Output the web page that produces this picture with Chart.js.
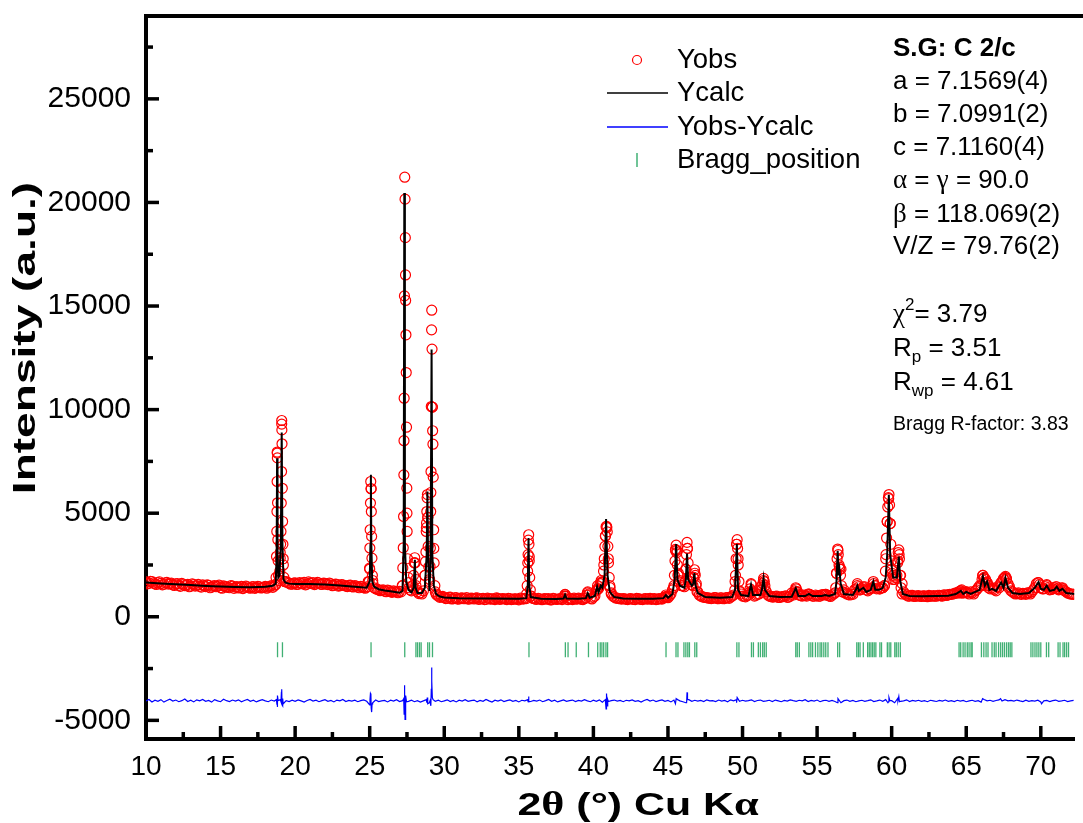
<!DOCTYPE html>
<html>
<head>
<meta charset="utf-8">
<script src="https://cdn.jsdelivr.net/npm/chart.js@4.4.1/dist/chart.umd.min.js"></script>
<style>
html,body{margin:0;padding:0;background:#fff;}
canvas{display:block;}
</style>
</head>
<body>
<canvas id="c" width="1083" height="823" style="width:1083px;height:823px;"></canvas>
<script>
// ---------------- DATA ----------------
const xTickLabels = [10, 15, 20, 25, 30, 35, 40, 45, 50, 55, 60, 65, 70];
const yTickLabels = [-5000, 0, 5000, 10000, 15000, 20000, 25000];
const xTitle = '2θ (°) Cu Kα';
const yTitle = 'Intensity (a.u.)';

// observed profile, 2θ step 0.2 starting at 10.0
const obsStartA = 10.0, obsStep = 0.2;
const obsBaseA = [
 1680,1620,1700,1590,1650,1610,1570,1660,1600,1540,
 1590,1520,1610,1500,1560,1480,1550,1510,1470,1540,
 1460,1520,1430,1500,1470,1410,1490,1440,1400,1480,
 1430,1390,1470,1420,1450,1380,1460,1410,1440,1400,
 1470,1430,1500,1480,7900,3100,2800,1700,1620,1580,
 1640,1570,1610,1660,1580,1620,1650,1590,1630,1560,
 1610,1550,1590,1530,1570,1500,1540,1480,1520,1460,
 1500,1430,1470,1410,1440,2300,1750,1350,1300,1280,
 1240,1290,1210,1250,1190,1230,1500,16500,1650,1250,
 2600,1200,1150,1250,4300,1700,10120,1200,1000,960,
 930,890,950,870,920,860,910,880,850,900,
 860,910,850,890,840,880,860,830,890,850,
 870,830,880,840,860,820,870,890,2600,1000,
 880,840,870,830,860,880,820,870,840,880,
 900,850,880,830,860,900,840,880,1150,900,
 950,1250,1450,1650,3900,2800,1150,950,900,870,
 880,840,870,850,830,880,840,870,850,890,
 860,830,880,850,950,920,1100,1500,3200,1750,
 1500,2300,1900,1550,2100,1200,1000,950,920,900,
 890,920,870,910,880,930,950,1050,3500,1250,
 1000,960,1050,1550,1000,1080,1300,1750,1200,1000,
 950,980,930,960,990,940,1000,1050,1350,1050,
 1000,1030,1100,1040,990,1020,1000,1070,1080,1010,
 1050,1150,3200,2300,1300,1100,1050,1080,1350,1450,
 1350,1450,1250,1350,1600,1350,1350,1400,2800,5700,
 2300,1900,2700,2000,1200,1050,1000,1030,990,1020,
 980,1010,970,1000,1020,990,1030,1000,1050,1070,
 1080,1120,1150,1250,1150,1200,1100,1150,1250,1400,
 1500,1900,1650,1350,1350,1250,1400,1700,1900,1600,
 1250,1150,1120,1100,1130,1080,1150,1200,1400,1650,
 1400,1350,1500,1300,1350,1450,1300,1380,1250,1150,
 1100,1080
];
// observed profile, 2θ step 0.2 starting at 10.1 (interleaved points)
const obsStartB = 10.1;
const obsBaseB = [
 1590,1710,1630,1560,1690,1540,1640,1580,1620,1510,
 1600,1470,1570,1530,1450,1590,1480,1560,1430,1500,
 1540,1400,1480,1450,1530,1380,1460,1420,1500,1370,
 1460,1410,1360,1480,1400,1440,1370,1470,1390,1420,
 1380,1460,1420,1550,2000,9300,1700,1650,1570,1620,
 1560,1650,1590,1540,1680,1600,1550,1660,1580,1620,
 1570,1620,1500,1580,1480,1550,1510,1460,1530,1440,
 1480,1400,1450,1380,1700,6180,1400,1330,1260,1300,
 1210,1260,1180,1220,1160,1200,8500,5000,1300,1500,
 1500,1120,1100,2000,4800,6000,3300,1050,940,980,
 880,940,860,910,850,900,870,930,860,890,
 900,840,880,830,900,850,870,910,840,880,
 850,890,830,870,840,900,850,880,2900,900,
 850,890,830,880,850,820,890,840,870,830,
 1070,830,870,900,850,880,830,910,1100,860,
 1000,1350,1650,2500,4300,1500,1000,900,880,850,
 870,830,880,840,890,850,830,880,860,840,
 880,840,870,900,980,1000,1300,3250,2100,1500,
 1450,3300,1700,1900,1600,1050,960,930,900,880,
 930,880,910,870,920,890,1000,1700,2800,1100,
 990,1030,1350,1200,1040,1100,1500,1500,1050,980,
 960,1000,940,970,1010,950,1150,1250,1200,1020,
 1050,1000,1080,1000,1050,990,1060,1050,1040,980,
 1100,2100,2400,1200,1150,1070,1100,1300,1600,1300,
 1450,1300,1350,1400,1500,1400,1400,1500,4600,4500,
 2000,1900,3000,1600,1100,1000,1040,980,1010,990,
 1010,980,1030,990,1000,1040,1010,1060,1030,1080,
 1100,1150,1200,1300,1180,1150,1200,1100,1300,1500,
 2000,1800,1500,1400,1300,1450,1600,1850,1850,1450,
 1200,1100,1150,1080,1120,1150,1100,1300,1600,1550,
 1350,1450,1400,1320,1400,1350,1320,1300,1200,1120,
 1090
];

// observed points on the Bragg peaks [2θ, counts]
const obsPeaks = [
 [18.68,1550],[18.72,1900],[18.75,2910],[18.77,4120],[18.78,5080],[18.79,6530],[18.80,7950],[18.81,7670],[18.82,5500],[18.84,3720],[18.86,2700],[18.89,2000],[18.93,1750],
 [18.97,2200],[19.00,2830],[19.03,3500],[19.05,4120],[19.07,5490],[19.09,7010],[19.10,9475],[19.11,9020],[19.12,8350],[19.14,6200],[19.16,4600],[19.18,3500],[19.21,2500],[19.25,1900],[19.30,1700],
 [24.96,1700],[24.99,2350],[25.01,3320],[25.03,4200],[25.05,5490],[25.07,6530],[25.09,6180],[25.11,5080],[25.13,3880],[25.15,2830],[25.18,2000],[25.22,1600],
 [27.18,1500],[27.22,2360],[27.25,3330],[27.27,4840],[27.29,6850],[27.31,10550],[27.33,15490],[27.35,21220],[27.37,20160],[27.39,18300],[27.41,15270],[27.43,13610],[27.45,11790],[27.47,9150],[27.49,6210],[27.51,4120],[27.54,2800],[27.58,1900],[27.64,1400],
 [27.88,1500],[27.94,2000],[27.99,2600],[28.02,2850],[28.05,2600],[28.09,1800],[28.15,1300],
 [28.70,2000],[28.74,2660],[28.77,3130],[28.79,4120],[28.81,4530],[28.83,5080],[28.85,5740],[28.87,5900],[28.89,4800],[28.92,3400],[28.96,2400],
 [29.02,1800],[29.05,2430],[29.07,3320],[29.09,5080],[29.11,7010],[29.13,10150],[29.15,13850],[29.16,14800],[29.18,12920],[29.20,10120],[29.22,8980],[29.24,8330],[29.26,6740],[29.29,4200],[29.32,2600],[29.37,1500],[29.45,1100],
 [35.52,1100],[35.56,1500],[35.59,2200],[35.62,3000],[35.64,3700],[35.66,3960],[35.68,3500],[35.70,2700],[35.73,1900],[35.77,1300],[35.82,1000],
 [38.05,1000],[38.10,1080],[38.15,1000],[39.55,1050],[39.62,1200],[39.68,1050],
 [40.22,1300],[40.28,1500],[40.34,1350],[40.45,1600],[40.52,1750],
 [40.62,1700],[40.68,2200],[40.73,2800],[40.77,3400],[40.81,3900],[40.85,4350],[40.89,4360],[40.93,4100],[40.97,3400],[41.01,2600],[41.06,1900],[41.12,1400],[41.20,1100],
 [44.80,950],[44.86,1050],[44.92,950],
 [45.38,1400],[45.43,2000],[45.47,2700],[45.51,3200],[45.55,3460],[45.59,3100],[45.63,2500],[45.67,2000],[45.72,1700],
 [46.16,1700],[46.20,2300],[46.24,3000],[46.28,3590],[46.31,3300],[46.35,2600],[46.40,1900],
 [46.68,1500],[46.73,1900],[46.78,2270],[46.83,2000],[46.88,1500],[46.95,1200],
 [49.48,1300],[49.53,2000],[49.57,2800],[49.61,3500],[49.64,3720],[49.67,3300],[49.71,2500],[49.76,1700],[49.82,1200],
 [50.50,1200],[50.57,1600],[50.64,1250],
 [51.30,1300],[51.36,1600],[51.41,1850],[51.46,1700],[51.53,1300],
 [53.48,1150],[53.57,1400],[53.65,1200],[54.45,1100],[55.55,1080],
 [56.25,1400],[56.30,2100],[56.34,2800],[56.38,3270],[56.42,3000],[56.47,2500],[56.52,2300],[56.57,2000],[56.63,1500],[56.70,1200],
 [57.70,1500],[57.85,1300],[58.10,1400],[58.50,1350],[58.77,1700],[58.90,1500],[59.20,1350],[59.40,1400],
 [59.52,1500],[59.58,2200],[59.62,3000],[59.66,3800],[59.70,4600],[59.74,5300],[59.78,5750],[59.82,5900],[59.86,5400],[59.90,4500],[59.94,3500],[59.98,2700],[60.03,2100],[60.08,1800],[60.20,1800],
 [60.35,2000],[60.40,2600],[60.44,3100],[60.48,3230],[60.52,2800],[60.57,2000],[60.63,1400],[60.70,1100],
 [64.55,1150],[64.64,1250],[64.72,1150],[65.00,1200],
 [66.00,1500],[66.06,1800],[66.12,2000],[66.18,1850],[66.25,1650],[66.40,1650],[66.50,1400],
 [67.34,1650],[67.50,1800],[67.63,1950],[67.70,1800],[67.85,1400],
 [69.85,1650],[70.40,1550],[70.90,1400],[71.07,1450],[71.45,1400]
];

// calculated profile [2θ, counts]
const calcPts = [
 [10,1650],[11,1610],[12,1570],[13,1530],[14,1490],[15,1460],[16,1440],[17,1430],[18,1450],[18.5,1500],
 [18.70,1600],[18.76,3000],[18.79,7650],[18.82,3000],[18.87,1900],[18.95,2000],[19.04,3500],[19.10,8900],[19.15,3500],[19.22,1800],[19.35,1650],[19.6,1600],
 [20,1580],[21,1580],[22,1560],[23,1510],[24,1450],[24.8,1400],[25.0,1700],[25.05,3500],[25.08,6850],[25.11,3500],[25.17,1700],[25.3,1450],[25.6,1330],
 [26,1270],[26.5,1220],[27.0,1160],[27.2,1250],[27.28,3500],[27.32,20450],[27.36,3500],[27.45,1700],[27.6,1300],[27.8,1180],[27.95,1400],[28.03,2750],[28.08,1400],
 [28.2,1150],[28.5,1150],[28.7,1400],[28.82,3000],[28.87,6050],[28.91,3000],[29.0,1250],[29.08,2500],[29.15,12900],[29.2,3000],[29.3,1500],[29.45,1100],[29.7,980],
 [30,930],[31,900],[33,880],[35,865],[35.5,900],[35.6,1500],[35.65,3800],[35.7,1500],[35.8,950],[36.5,870],[37.5,860],[38.0,880],[38.1,1060],[38.2,880],
 [39,870],[39.5,900],[39.62,1140],[39.75,920],[40.1,1000],[40.25,1460],[40.35,1200],[40.5,1500],[40.6,1400],[40.75,2000],[40.85,4715],[40.95,2000],[41.1,1200],[41.4,950],
 [42,880],[43,870],[44,870],[44.7,900],[44.86,1050],[45.0,920],[45.3,1100],[45.45,1800],[45.55,3510],[45.63,1800],[45.8,1500],[46.1,1400],[46.2,1800],[46.28,3050],[46.35,1800],
 [46.6,1500],[46.7,1600],[46.77,2110],[46.85,1500],[47.0,1150],[47.5,950],[48.5,920],[49.3,950],[49.5,1300],[49.62,3510],[49.7,1300],[49.9,1050],[50.4,1000],[50.57,1545],[50.7,1050],
 [51.2,1050],[51.3,1300],[51.41,1870],[51.5,1300],[51.8,1000],[52.5,950],[53.3,970],[53.57,1385],[53.75,1000],[54.2,1000],[54.45,1100],[54.7,1000],[55.3,1000],[55.55,1050],[55.8,1000],
 [56.2,1100],[56.3,1700],[56.38,3185],[56.44,2000],[56.5,2270],[56.58,1600],[56.8,1100],[57.4,1050],[57.6,1300],[57.7,1500],[57.8,1250],[58.1,1400],[58.3,1200],[58.6,1300],[58.77,1700],
 [58.9,1300],[59.17,1300],[59.4,1400],[59.6,1900],[59.7,3000],[59.81,5890],[59.9,3000],[60.1,1900],[60.35,1900],[60.48,2910],[60.58,1700],[60.75,1100],[61.2,1000],[62,990],[63,1000],
 [63.8,1020],[64.3,1100],[64.64,1250],[64.8,1100],[65.0,1200],[65.3,1100],[65.9,1300],[66.12,1950],[66.25,1500],[66.4,1700],[66.55,1300],[66.74,1350],[67.0,1250],[67.34,1650],[67.5,1400],
 [67.63,1870],[67.8,1400],[68.1,1150],[68.6,1100],[69.2,1150],[69.6,1400],[69.85,1675],[70.0,1350],[70.2,1300],[70.4,1500],[70.6,1250],[70.9,1300],[71.07,1450],[71.25,1250],[71.45,1350],
 [71.7,1150],[72.3,1100]
];

// difference curve (Yobs - Ycalc, plotted with offset), 2θ step 0.2 from 10.0
const diffStart = 10.0, diffStep = 0.2;
const diffBase = [
 -4060,-3990,-4110,-4030,-4080,-4000,-4120,-4040,-3980,-4070,
 -4020,-4100,-4050,-3970,-4090,-4030,-4110,-4010,-4060,-3990,
 -4080,-4040,-4120,-4000,-4060,-4100,-3980,-4050,-4090,-4020,
 -4070,-4010,-4100,-4040,-3990,-4080,-4030,-4110,-4050,-4000,
 -4060,-4100,-4020,-4070,-4150,-4000,-4200,-4050,-4090,-4030,
 -4080,-4010,-4060,-4120,-4040,-3990,-4070,-4030,-4100,-4050,
 -4000,-4080,-4040,-4110,-4020,-4060,-3990,-4090,-4040,-4070,
 -4030,-4100,-4050,-4010,-4080,-4250,-4150,-4020,-4090,-4060,
 -4040,-4110,-4030,-4070,-4000,-4090,-4050,-4300,-4080,-4030,
 -4100,-4050,-4120,-4060,-4000,-4150,-3900,-4080,-4030,-4100,
 -4060,-4010,-4090,-4040,-4110,-4030,-4070,-4000,-4080,-4050,
 -4020,-4100,-4040,-4080,-3990,-4060,-4120,-4030,-4070,-4010,
 -4090,-4050,-4010,-4080,-4040,-4110,-4030,-4060,-4000,-4090,
 -4040,-4070,-4020,-4100,-4050,-3990,-4080,-4030,-4110,-4060,
 -4010,-4080,-4050,-4020,-4090,-4040,-4070,-4000,-4060,-4100,
 -4030,-4080,-4010,-4120,-4000,-4090,-4050,-4020,-4070,-4040,
 -4100,-4030,-4060,-4010,-4080,-4050,-4120,-4040,-3990,-4070,
 -4020,-4090,-4050,-4010,-4080,-4040,-4110,-4020,-3980,-4060,
 -4100,-4150,-4000,-4080,-4030,-4070,-4040,-4090,-4010,-4060,
 -4050,-4090,-4020,-4070,-4040,-4100,-4010,-4060,-4000,-4080,
 -4030,-4070,-4050,-4010,-4090,-4040,-4020,-4080,-4060,-4030,
 -4090,-4020,-4060,-4100,-4040,-4070,-4010,-4050,-4080,-4030,
 -4060,-4000,-4090,-4040,-4070,-4020,-4100,-4050,-4030,-4080,
 -4040,-4090,-3980,-4150,-4050,-4020,-4080,-4040,-4100,-4060,
 -4030,-4080,-4050,-4010,-4090,-4060,-4020,-4080,-4000,-4100,
 -4050,-4150,-3950,-4080,-4060,-4010,-4090,-4040,-4070,-4030,
 -4080,-4050,-4100,-4030,-4060,-4090,-4040,-4070,-4020,-4080,
 -4050,-4090,-4030,-4070,-4040,-4100,-4060,-4030,-4080,-4050,
 -4120,-3990,-4060,-4030,-4080,-4040,-4010,-4070,-4000,-4060,
 -4040,-4070,-4020,-4060,-4090,-4030,-4080,-4050,-4070,-4030,
 -4110,-4060,-4040,-4090,-4050,-4020,-4080,-4060,-4030,-4090,
 -4060,-4040
];
const diffSpikes = [
 [18.75,-4000],[18.78,-4250],[18.80,-4350],[18.83,-3800],[18.86,-4050],
 [19.05,-4100],[19.08,-3650],[19.10,-3500],[19.12,-4250],[19.15,-4300],[19.18,-3950],
 [25.02,-4000],[25.05,-3700],[25.08,-3750],[25.10,-4400],[25.13,-4600],[25.16,-4200],
 [27.28,-3950],[27.31,-4700],[27.33,-3300],[27.35,-3600],[27.37,-4950],[27.40,-4600],[27.43,-3800],[27.47,-4100],
 [28.83,-4150],[28.86,-3900],[28.89,-4200],
 [29.05,-4050],[29.10,-4300],[29.13,-3500],[29.15,-2450],[29.17,-3100],[29.20,-3900],[29.25,-4000],
 [35.62,-4100],[35.65,-3850],[35.68,-4100],
 [40.80,-4000],[40.85,-4450],[40.88,-3700],[40.92,-4300],[40.96,-4000],
 [45.50,-4200],[45.55,-3950],
 [46.25,-4150],[46.28,-3650],[46.31,-4000],
 [49.60,-4150],[49.64,-3900],
 [56.36,-4150],[56.40,-3950],
 [59.75,-4150],[59.82,-3900],[59.88,-4050],
 [60.42,-4050],[60.48,-3850],[60.52,-4100],
 [66.10,-3950],[67.30,-3950],[70.05,-4200]
];

// Bragg reflection positions (2θ)
const braggPos = [
 18.82,19.15,25.09,27.35,28.10,28.21,28.34,28.45,28.89,29.01,29.21,35.68,
 38.12,38.30,38.85,39.67,40.29,40.46,40.57,40.69,40.84,40.95,
 44.87,45.54,45.67,46.07,46.20,46.33,46.44,46.80,46.93,
 49.62,49.76,50.60,50.73,51.06,51.20,51.35,51.46,51.59,
 53.57,53.67,53.81,54.45,54.58,54.70,54.89,55.05,55.20,55.31,55.45,55.58,55.73,56.38,56.51,
 57.66,57.77,57.88,58.10,58.39,58.50,58.61,58.72,58.83,58.94,59.21,59.32,59.71,59.83,59.94,60.21,60.31,60.44,60.58,
 64.52,64.63,64.79,64.92,65.07,65.19,65.32,65.40,66.02,66.18,66.33,66.46,66.73,66.88,67.00,67.17,67.31,67.44,67.57,67.71,67.84,67.95,68.06,
 69.34,69.47,69.61,69.74,69.87,70.00,70.38,70.53,71.16,71.29,71.49,71.60,71.73,71.86
];
const braggLevel = -1590;

// ---------------- BUILD ----------------
const obsData = obsBaseA.map((v, i) => ({x: +(obsStartA + i * obsStep).toFixed(2), y: v}))
  .concat(obsBaseB.map((v, i) => ({x: +(obsStartB + i * obsStep).toFixed(2), y: v})))
  .concat(obsPeaks.map(p => ({x: p[0], y: p[1]})));
const calcData = calcPts.map(p => ({x: p[0], y: p[1]}));
const diffData = diffBase.map((v, i) => ({x: +(diffStart + i * diffStep).toFixed(2), y: v}))
  .concat(diffSpikes.map(p => ({x: p[0], y: p[1]})))
  .sort((a, b) => a.x - b.x);
const braggData = braggPos.map(v => ({x: v, y: braggLevel}));

const SANS = '"Liberation Sans", Arial, Helvetica, sans-serif';
const SERIF = '"Liberation Serif", "Times New Roman", serif';

function richWidth(ctx, segs) {
  let w = 0;
  segs.forEach(s => { ctx.font = s.font; w += ctx.measureText(s.t).width; });
  return w;
}
function drawRich(ctx, x, y, segs) {
  let cx = x;
  segs.forEach(s => {
    ctx.font = s.font;
    ctx.fillText(s.t, cx, y + (s.dy || 0));
    cx += ctx.measureText(s.t).width;
  });
}

const decorPlugin = {
  id: 'decor',
  afterDraw(chart) {
    const ctx = chart.ctx;
    const ca = chart.chartArea;
    const xs = chart.scales.x, ys = chart.scales.y;
    ctx.save();
    ctx.strokeStyle = '#000';
    ctx.lineCap = 'butt';
    // top frame
    ctx.lineWidth = 4;
    ctx.beginPath(); ctx.moveTo(ca.left - 2, ca.top); ctx.lineTo(chart.width, ca.top); ctx.stroke();
    // inward ticks, x
    ctx.lineWidth = 3.5;
    xTickLabels.forEach(v => {
      const px = xs.getPixelForValue(v);
      ctx.beginPath(); ctx.moveTo(px, ca.bottom); ctx.lineTo(px, ca.bottom - 13); ctx.stroke();
      const mv = v + 2.5;
      if (mv < xs.max) {
        const mx = xs.getPixelForValue(mv);
        ctx.beginPath(); ctx.moveTo(mx, ca.bottom); ctx.lineTo(mx, ca.bottom - 7); ctx.stroke();
      }
    });
    // inward ticks, y
    yTickLabels.forEach(v => {
      const py = ys.getPixelForValue(v);
      ctx.beginPath(); ctx.moveTo(ca.left, py); ctx.lineTo(ca.left + 13, py); ctx.stroke();
      const mv = v + 2500;
      if (mv < ys.max) {
        const my = ys.getPixelForValue(mv);
        ctx.beginPath(); ctx.moveTo(ca.left, my); ctx.lineTo(ca.left + 7, my); ctx.stroke();
      }
    });

    // axis titles
    ctx.fillStyle = '#000';
    ctx.textAlign = 'left';
    ctx.textBaseline = 'alphabetic';
    const tb = 'bold 32px ' + SANS, tg = 'bold 33px ' + SERIF;
    const xSegs = [{t: '2', font: tb}, {t: 'θ', font: tg}, {t: ' (°) Cu K', font: tb}, {t: 'α', font: tg}];
    const xw = richWidth(ctx, xSegs);
    ctx.save();
    ctx.translate((ca.left + xs.getPixelForValue(72.24)) / 2 + 28, 815);
    ctx.scale(1.34, 1);
    drawRich(ctx, -xw / 2, 0, xSegs);
    ctx.restore();
    ctx.save();
    ctx.translate(35, 338);
    ctx.rotate(-Math.PI / 2);
    ctx.scale(1.44, 1);
    ctx.font = tb;
    const yw = ctx.measureText(yTitle).width;
    ctx.fillText(yTitle, -yw / 2, 0);
    ctx.restore();

    // legend
    ctx.textBaseline = 'middle';
    ctx.font = '27.5px ' + SANS;
    ctx.lineWidth = 1.2;
    ctx.strokeStyle = '#ff0000';
    ctx.beginPath(); ctx.arc(637, 60, 4.5, 0, Math.PI * 2); ctx.stroke();
    ctx.fillText('Yobs', 677, 60);
    ctx.strokeStyle = '#000'; ctx.lineWidth = 1.5;
    ctx.beginPath(); ctx.moveTo(607, 93); ctx.lineTo(668, 93); ctx.stroke();
    ctx.fillText('Ycalc', 677, 93);
    ctx.strokeStyle = '#0000ff';
    ctx.beginPath(); ctx.moveTo(607, 127); ctx.lineTo(668, 127); ctx.stroke();
    ctx.fillText('Yobs-Ycalc', 677, 127);
    ctx.strokeStyle = 'rgba(0,150,70,0.75)'; ctx.lineWidth = 1.5;
    ctx.beginPath(); ctx.moveTo(637, 153); ctx.lineTo(637, 167); ctx.stroke();
    ctx.fillText('Bragg_position', 677, 160);

    // annotation block
    ctx.textBaseline = 'alphabetic';
    const ax = 893;
    const f = '26px ' + SANS, g = '27px ' + SERIF, sm = '17px ' + SANS;
    drawRich(ctx, ax, 56, [{t: 'S.G: C 2/c', font: 'bold 26px ' + SANS}]);
    drawRich(ctx, ax, 89, [{t: 'a = 7.1569(4)', font: f}]);
    drawRich(ctx, ax, 122, [{t: 'b = 7.0991(2)', font: f}]);
    drawRich(ctx, ax, 155, [{t: 'c = 7.1160(4)', font: f}]);
    drawRich(ctx, ax, 188, [{t: 'α', font: g}, {t: ' = ', font: f}, {t: 'γ', font: g}, {t: ' = 90.0', font: f}]);
    drawRich(ctx, ax, 222, [{t: 'β', font: g}, {t: ' = 118.069(2)', font: f}]);
    drawRich(ctx, ax, 254, [{t: 'V/Z = 79.76(2)', font: f}]);
    drawRich(ctx, ax, 322, [{t: 'χ', font: g}, {t: '2', font: sm, dy: -12}, {t: '= 3.79', font: f}]);
    drawRich(ctx, ax, 356, [{t: 'R', font: f}, {t: 'p', font: sm, dy: 6}, {t: ' = 3.51', font: f}]);
    drawRich(ctx, ax, 390, [{t: 'R', font: f}, {t: 'wp', font: sm, dy: 6}, {t: ' = 4.61', font: f}]);
    drawRich(ctx, ax, 430, [{t: 'Bragg R-factor: 3.83', font: '19.5px ' + SANS}]);
    ctx.restore();
  }
};

new Chart(document.getElementById('c'), {
  type: 'scatter',
  data: {
    datasets: [
      {label: 'Ycalc', data: calcData, showLine: true, borderColor: '#000', borderWidth: 2,
       pointRadius: 0, pointHoverRadius: 0, tension: 0, order: 0, clip: 0},
      {label: 'Yobs', data: obsData, showLine: false, pointStyle: 'circle', pointRadius: 5,
       borderColor: '#ff0000', backgroundColor: 'rgba(0,0,0,0)', pointBorderWidth: 1.2, order: 1, clip: 0},
      {label: 'Yobs-Ycalc', data: diffData, showLine: true, borderColor: '#0000ff', borderWidth: 1.2,
       pointRadius: 0, tension: 0, order: 2, clip: 0},
      {label: 'Bragg_position', data: braggData, showLine: false, pointStyle: 'line', rotation: 90,
       pointRadius: 7.5, borderColor: 'rgba(0,150,70,0.75)', pointBorderWidth: 1.3, order: 3, clip: 0}
    ]
  },
  options: {
    responsive: false,
    devicePixelRatio: 1,
    animation: false,
    events: [],
    layout: {padding: {top: 16, right: 0, left: 0, bottom: 0}},
    plugins: {legend: {display: false}, tooltip: {enabled: false}},
    scales: {
      x: {
        type: 'linear', position: 'bottom', min: 10, max: 72.24,
        afterBuildTicks: s => { s.ticks = xTickLabels.map(v => ({value: v})); },
        afterFit: s => { s.height = 84; s.paddingLeft = 0; s.paddingRight = 0; },
        grid: {display: false, drawTicks: false},
        border: {display: true, width: 4, color: '#000'},
        ticks: {font: {family: SANS, size: 28}, color: '#000', padding: 11, maxRotation: 0,
                callback: v => String(v)},
        title: {display: false, text: xTitle}
      },
      y: {
        type: 'linear', position: 'left', min: -5900, max: 29000,
        afterBuildTicks: s => { s.ticks = yTickLabels.map(v => ({value: v})); },
        afterFit: s => { s.width = 146; s.paddingTop = 0; s.paddingBottom = 0; },
        grid: {display: false, drawTicks: false},
        border: {display: true, width: 4, color: '#000'},
        ticks: {font: {family: SANS, size: 30}, color: '#000', padding: 15,
                callback: v => String(v)},
        title: {display: false, text: yTitle}
      }
    }
  },
  plugins: [decorPlugin]
});
</script>
</body>
</html>
